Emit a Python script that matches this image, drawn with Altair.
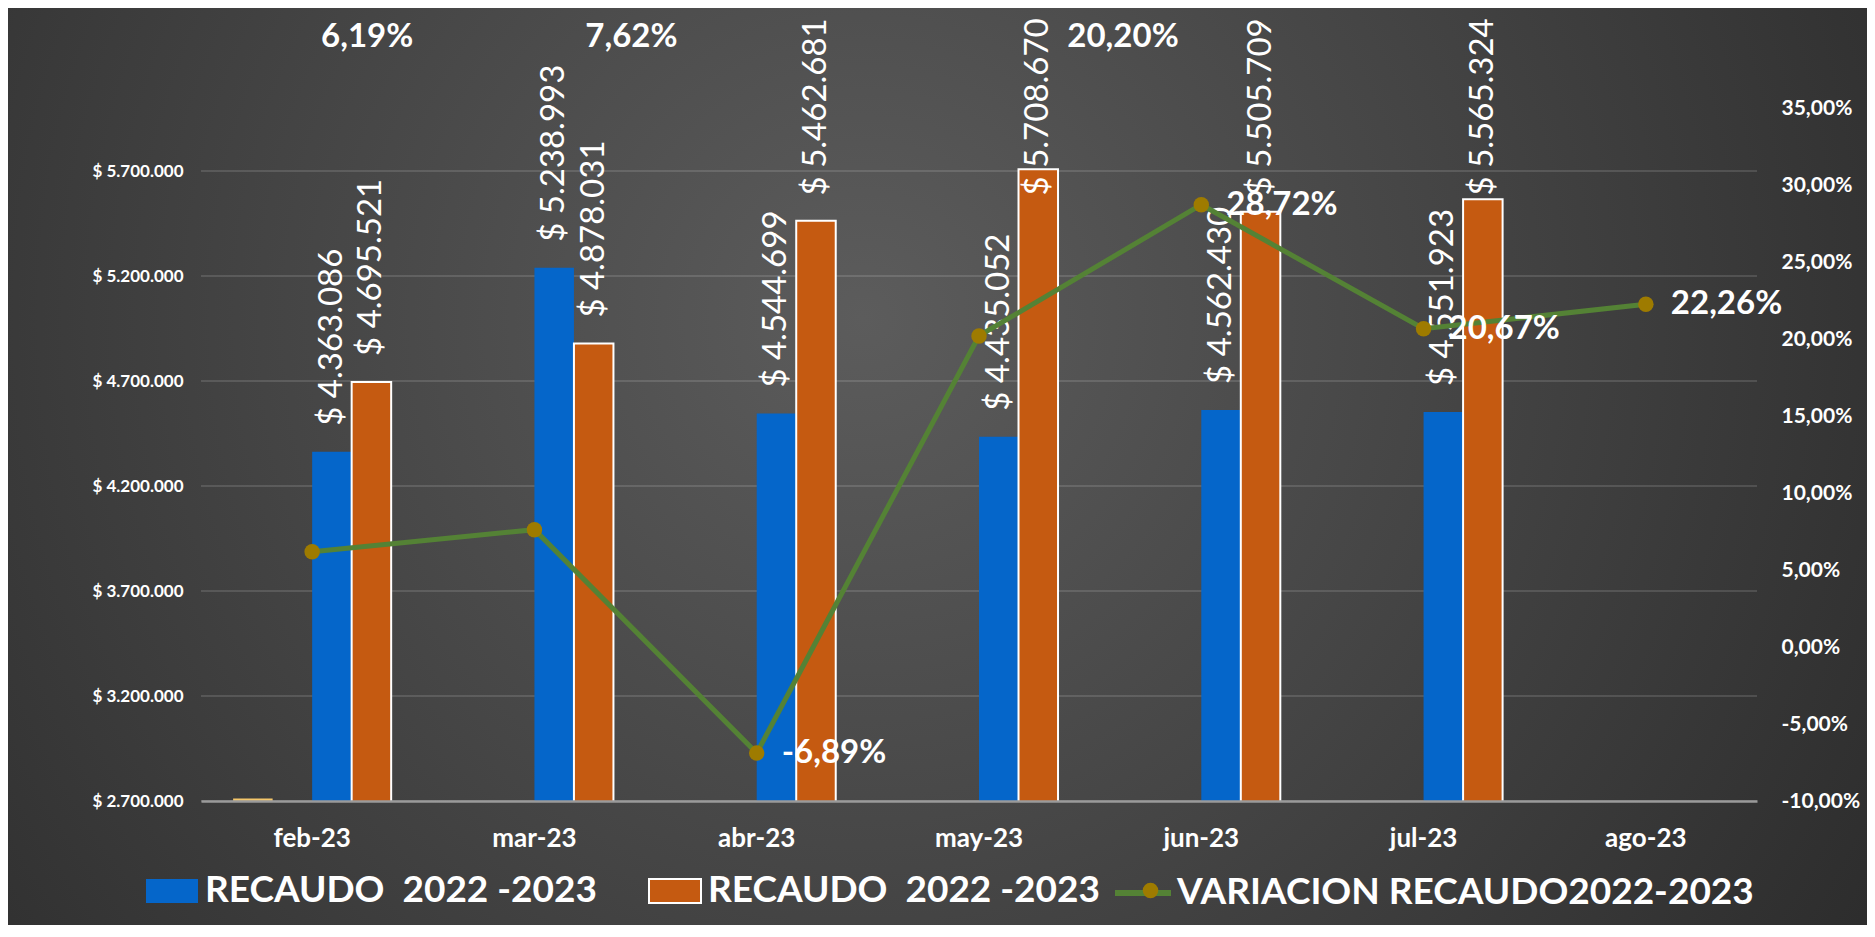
import altair as alt
import pandas as pd

# ---------------- data ----------------
meses = ["feb-23", "mar-23", "abr-23", "may-23", "jun-23", "jul-23", "ago-23"]
recaudo_azul = [4363086, 5238993, 4544699, 4435052, 4562430, 4551923, None]
recaudo_naranja = [4695521, 4878031, 5462681, 5708670, 5505709, 5565324, None]
serie_amarilla = [2712000, None, None, None, None, None, None]
variacion = [0.0619, 0.0762, -0.0689, 0.2020, 0.2872, 0.2067, 0.2226]
ticks_izq = [2700000, 3200000, 3700000, 4200000, 4700000, 5200000, 5700000]
ticks_der = [-0.10, -0.05, 0.0, 0.05, 0.10, 0.15, 0.20, 0.25, 0.30, 0.35]
leyenda_barras = "RECAUDO  2022 -2023"
leyenda_linea = "VARIACION RECAUDO2022-2023"

barras = pd.DataFrame(
    [{"mes": m, "slot": "c", "valor": v} for m, v in zip(meses, recaudo_azul) if v is not None]
    + [{"mes": m, "slot": "d", "valor": v} for m, v in zip(meses, recaudo_naranja) if v is not None]
)
amarilla = pd.DataFrame(
    [{"mes": m, "slot": "a", "valor": v} for m, v in zip(meses, serie_amarilla) if v is not None]
)
lineas = pd.DataFrame({"mes": meses, "variacion": variacion, "serie": leyenda_linea})
grid = pd.DataFrame({"tick": ticks_izq})

# ---------------- layout / style ----------------
W, H = 1556, 693
PAD = {"left": 193, "top": 100, "right": 110, "bottom": 124}
FONT = "Lato"

x_scale = alt.Scale(domain=meses, paddingInner=0.289, paddingOuter=0.1445)
eje_x = alt.Axis(title=None, labelAngle=0, labelFont=FONT, labelFontWeight="bold",
                 labelFontSize=26, labelColor="white", ticks=False, domain=True,
                 domainColor="#9a9a9a", domainWidth=2.5, labelPadding=24, grid=False, zindex=1)
X = alt.X("mes:N", sort=meses, scale=x_scale, axis=eje_x)
xoff = alt.XOffset("slot:N", scale=alt.Scale(domain=["a", "b", "c", "d"], paddingInner=0, paddingOuter=0))

izq_scale = alt.Scale(domain=[2700000, 6000000], zero=False, nice=False)
eje_izq = alt.Axis(values=ticks_izq, format="$,.0f", labelFont=FONT, labelFontWeight="bold",
                   labelFontSize=17, labelColor="white", domain=False, ticks=False, grid=False,
                   labelPadding=18, title=None, zindex=1)
der_scale = alt.Scale(domain=[-0.10, 0.35], zero=False, nice=False)
eje_der = alt.Axis(orient="right", values=ticks_der, format=".2%", labelFont=FONT,
                   labelFontWeight="bold", labelFontSize=21, labelColor="white", domain=False,
                   ticks=False, grid=False, labelPadding=24, title=None, zindex=1)

def YL(field):
    return alt.Y(f"{field}:Q", scale=izq_scale, axis=eje_izq)

def YR(field):
    return alt.Y(f"{field}:Q", scale=der_scale, axis=eje_der)

# background gradient
fondo = alt.Chart(alt.InlineData(values=[{"k": 1}])).mark_rect(
    color=alt.RadialGradient(
        gradient="radial",
        stops=[alt.GradientStop(color="#5c5c5c", offset=0),
               alt.GradientStop(color="#444444", offset=0.45),
               alt.GradientStop(color="#262626", offset=1)],
        x1=0.46, y1=0.42, r1=0, x2=0.46, y2=0.42, r2=0.72)
).encode(x=alt.value(-PAD["left"]), x2=alt.value(W + PAD["right"]),
         y=alt.value(-PAD["top"]), y2=alt.value(H + PAD["bottom"]))

lineas_grid = alt.Chart(grid).mark_rule(color="#ffffff", opacity=0.13, strokeWidth=2).encode(
    y=YL("tick"))

barras_amarillas = alt.Chart(amarilla).mark_bar(clip=True, color="#F5C76B").encode(
    x=X, xOffset=xoff, y=YL("valor"))

etiqueta_leyenda = leyenda_barras.replace("  ", " \u00a0")
leg_barras = alt.Legend(
    title=None, orient="none", legendX=-56, legendY=756, direction="horizontal",
    symbolType="M-1,-0.46L1,-0.46L1,0.46L-1,0.46Z", symbolSize=2704, symbolOpacity=1,
    labelFont=FONT, labelFontWeight="bold", labelFontSize=37, labelColor="white",
    labelLimit=2000, labelOffset=6, columnPadding=48, padding=0,
    labelExpr=f"'{etiqueta_leyenda}'",
    symbolStrokeColor=alt.ExprRef(expr="datum.value === 'd' ? '#ffffff' : 'transparent'"),
    symbolStrokeWidth=2)

barras_chart = alt.Chart(barras).mark_bar(clip=True, strokeWidth=2).encode(
    x=X, xOffset=xoff, y=YL("valor"),
    color=alt.Color("slot:N", scale=alt.Scale(domain=["c", "d"], range=["#0566CA", "#C55A11"]),
                    legend=leg_barras),
    stroke=alt.condition(alt.datum.slot == "d", alt.value("#ffffff"), alt.value("transparent")))

etiquetas_barras = alt.Chart(barras).transform_calculate(
    ancla="min(datum.valor, 5460000)"
).mark_text(angle=270, align="left", baseline="middle", dx=26, font=FONT, fontSize=33,
            color="white").encode(
    x=X, xOffset=xoff, y=YL("ancla"), text=alt.Text("valor:Q", format="$,.0f"))

izq = alt.layer(lineas_grid, barras_amarillas, barras_chart, etiquetas_barras)

# right axis series
leg_linea = alt.Legend(
    title=None, orient="none", legendX=911, legendY=754, direction="horizontal",
    symbolType="stroke", symbolSize=3136, symbolStrokeWidth=6, labelFont=FONT,
    labelFontWeight="bold", labelFontSize=37, labelColor="white", labelLimit=2000,
    labelOffset=3, padding=0)
linea = alt.Chart(lineas).mark_line(strokeWidth=5).encode(
    x=X, y=YR("variacion"),
    stroke=alt.Stroke("serie:N", scale=alt.Scale(range=["#548235"]), legend=leg_linea))

leg_punto = alt.Legend(
    title=None, orient="none", legendX=931, legendY=764, direction="horizontal",
    symbolType="circle", symbolSize=240, symbolFillColor="#9E7B00",
    symbolStrokeColor="#9E7B00", symbolStrokeWidth=0, symbolOpacity=1,
    labelFontSize=37, labelExpr="''", padding=0)
puntos = alt.Chart(lineas).mark_point(filled=True, size=240, opacity=1, color="#9E7B00").encode(
    x=X, y=YR("variacion"),
    shape=alt.Shape("serie:N", scale=alt.Scale(range=["circle"]), legend=leg_punto))

estilo_pct = dict(font=FONT, fontWeight="bold", fontSize=33, color="white")
pct_der = alt.Chart(lineas).transform_filter(
    alt.FieldOneOfPredicate(field="mes", oneOf=["abr-23", "jun-23", "jul-23", "ago-23"])
).mark_text(align="left", baseline="middle", dx=25, **estilo_pct).encode(
    x=X, y=YR("variacion"), text=alt.Text("variacion:Q", format=".2%"))

capas_pct_arriba = []
for mes, dx in [("feb-23", 55), ("mar-23", 97), ("may-23", 144)]:
    capas_pct_arriba.append(
        alt.Chart(lineas).transform_filter(alt.datum.mes == mes).mark_text(
            align="center", baseline="middle", dx=dx, **estilo_pct).encode(
            x=X, y=alt.value(-71), text=alt.Text("variacion:Q", format=".2%")))

der = alt.layer(linea, puntos, pct_der, *capas_pct_arriba)

chart = alt.layer(fondo, izq, der).resolve_scale(y="independent").properties(
    width=W, height=H, padding=PAD, autosize=alt.AutoSizeParams(type="none"),
    background="#2b2b2b"
).configure_view(strokeWidth=0).configure(
    locale=alt.Locale(number=alt.NumberLocale(decimal=",", thousands=".", grouping=[3],
                                              currency=["$ ", ""], minus="-"))
)

chart.save("out.html", embed_options={"renderer": "svg", "actions": False})
